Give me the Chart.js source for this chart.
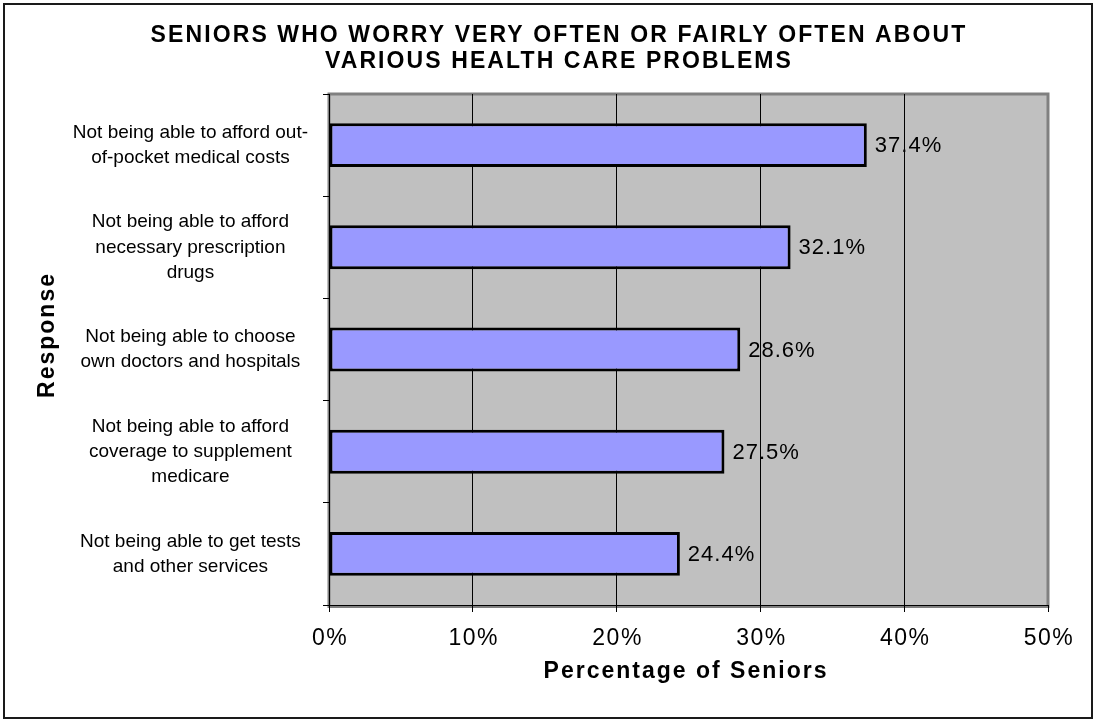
<!DOCTYPE html>
<html>
<head>
<meta charset="utf-8">
<title>Seniors health care worries</title>
<script src="https://cdn.jsdelivr.net/npm/chart.js@4/dist/chart.umd.min.js"></script>
<style>
  body { margin: 0; background: #fff; }
  #wrap { width: 1096px; height: 719px; position: relative; }
</style>
</head>
<body>
<div id="wrap"><canvas id="worryChart"></canvas></div>
<script>
const titleLines = ['SENIORS WHO WORRY VERY OFTEN OR FAIRLY OFTEN ABOUT', 'VARIOUS HEALTH CARE PROBLEMS'];
const responses = [
    ['Not being able to afford out-', 'of-pocket medical costs'],
    ['Not being able to afford', 'necessary prescription', 'drugs'],
    ['Not being able to choose', 'own doctors and hospitals'],
    ['Not being able to afford', 'coverage to supplement', 'medicare'],
    ['Not being able to get tests', 'and other services']
];
const percentages = [37.4, 32.1, 28.6, 27.5, 24.4];
const xTitle = 'Percentage of Seniors';
const yTitle = 'Response';

const FONT = "'Liberation Sans', Arial, sans-serif";

// gray plot background, titles, value labels and the outer frame
const decorations = {
    id: 'decorations',
    beforeDraw(chart) {
        const { ctx, chartArea: a, width, height } = chart;
        ctx.save();
        ctx.fillStyle = '#fff';
        ctx.fillRect(0, 0, width, height);
        ctx.fillStyle = '#c0c0c0';
        ctx.fillRect(a.left, a.top, a.right - a.left, a.bottom - a.top);
        ctx.strokeStyle = '#808080';
        ctx.lineWidth = 3;
        ctx.strokeRect(a.left, a.top, a.right - a.left, a.bottom - a.top + 1.5);
        ctx.restore();
    },
    afterDraw(chart) {
        const { ctx } = chart;
        const xScale = chart.scales.x;
        ctx.save();
        ctx.fillStyle = '#000';

        // value labels at the end of each bar
        ctx.font = '22px ' + FONT;
        ctx.letterSpacing = '1px';
        ctx.textAlign = 'left';
        ctx.textBaseline = 'middle';
        chart.getDatasetMeta(0).data.forEach((bar, i) => {
            ctx.fillText(percentages[i].toFixed(1) + '%', bar.x + 8, bar.y + 1);
        });

        // x tick labels
        ctx.font = '23px ' + FONT;
        ctx.letterSpacing = '1.5px';
        ctx.textAlign = 'center';
        xScale.ticks.forEach(t => {
            ctx.fillText(t.value + '%', xScale.getPixelForValue(t.value) + 1, 639);
        });

        // axis titles
        ctx.font = 'bold 23px ' + FONT;
        ctx.letterSpacing = '2px';
        ctx.fillText(xTitle, 686, 672);
        ctx.save();
        ctx.translate(48, 335);
        ctx.rotate(-Math.PI / 2);
        ctx.fillText(yTitle, 0, 0);
        ctx.restore();

        // chart title
        ctx.letterSpacing = '2.1px';
        titleLines.forEach((line, i) => {
            ctx.fillText(line, 559, 36 + i * 26);
        });
        ctx.letterSpacing = '0px';

        ctx.strokeStyle = '#1a1a1a';
        ctx.lineWidth = 2;
        ctx.strokeRect(4, 4, 1088, 714);
        ctx.restore();
    }
};

const ctx = document.getElementById('worryChart').getContext('2d');
new Chart(ctx, {
    type: 'bar',
    data: {
        labels: responses,
        datasets: [{
            data: percentages,
            backgroundColor: '#9999ff',
            borderColor: '#000',
            borderWidth: 3,
            borderSkipped: false,
            barPercentage: 0.43,
            categoryPercentage: 1
        }]
    },
    options: {
        indexAxis: 'y',
        responsive: true,
        maintainAspectRatio: false,
        animation: false,
        layout: { padding: { top: 94, right: 48, bottom: 0, left: 0 } },
        plugins: {
            legend: { display: false },
            tooltip: { enabled: false },
            title: { display: false }
        },
        scales: {
            x: {
                type: 'linear',
                min: 0,
                max: 50,
                ticks: { stepSize: 10, display: false },
                grid: {
                    color: c => (c.tick && c.tick.value === 50) ? 'rgba(0,0,0,0)' : '#000',
                    tickColor: '#000',
                    lineWidth: 1,
                    drawTicks: true,
                    tickLength: 7
                },
                border: { color: '#000', width: 1 },
                afterFit: s => { s.height = 114; }
            },
            y: {
                grid: {
                    drawOnChartArea: false,
                    drawTicks: true,
                    tickLength: 6,
                    color: '#000',
                    offset: true
                },
                border: { color: '#000', width: 1 },
                ticks: {
                    color: '#000',
                    crossAlign: 'center',
                    padding: 15,
                    font: { family: FONT, size: 19, lineHeight: 1.32 }
                },
                afterFit: s => { s.width = 329; }
            }
        }
    },
    plugins: [decorations]
});
</script>
</body>
</html>
